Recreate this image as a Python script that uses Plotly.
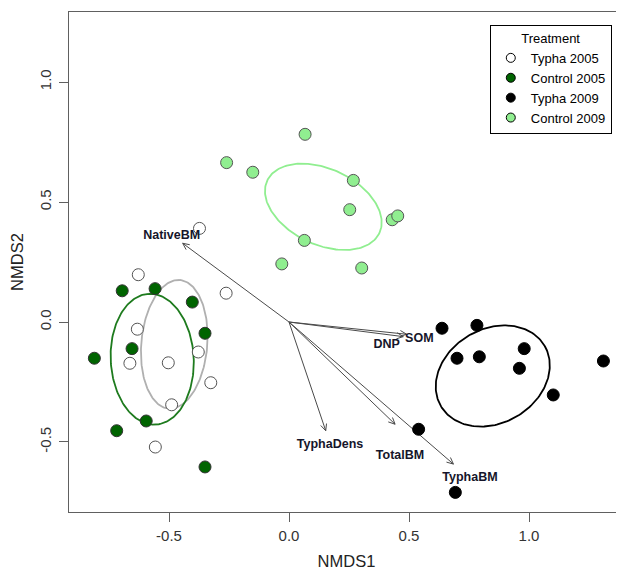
import numpy as np
import plotly.graph_objects as go

# ---- data ----
groups = ["Typha 2005", "Control 2005", "Typha 2009", "Control 2009"]

typha05_x = [-0.628, -0.262, -0.373, -0.632, -0.378, -0.663, -0.503, -0.326, -0.489, -0.557]
typha05_y = [0.197, 0.120, 0.390, -0.030, -0.125, -0.172, -0.170, -0.253, -0.345, -0.521]

control05_x = [-0.695, -0.558, -0.403, -0.350, -0.654, -0.811, -0.595, -0.718, -0.350]
control05_y = [0.130, 0.139, 0.083, -0.047, -0.111, -0.151, -0.4125, -0.453, -0.604]

typha09_x = [0.6375, 0.783, 0.700, 0.793, 0.980, 0.960, 1.310, 1.101, 0.540, 0.693]
typha09_y = [-0.026, -0.014, -0.151, -0.145, -0.111, -0.193, -0.1625, -0.304, -0.447, -0.710]

control09_x = [0.067, -0.260, -0.151, 0.268, 0.253, 0.430, 0.453, 0.064, -0.030, 0.303]
control09_y = [0.782, 0.664, 0.624, 0.590, 0.468, 0.426, 0.442, 0.340, 0.242, 0.225]

# ellipse parameters (centre, semi-axes, rotation in degrees)
ell_cx = [-0.478, -0.570, 0.849, 0.143]
ell_cy = [-0.093, -0.155, -0.225, 0.480]
ell_a = [0.269, 0.273, 0.250, 0.258]
ell_b = [0.1375, 0.173, 0.196, 0.158]
ell_ang = [85, 93, 30, -25]

# environmental vectors
vec_names = ["NativeBM", "SOM", "DNP", "TyphaDens", "TotalBM", "TyphaBM"]
vec_x = [-0.443, 0.490, 0.476, 0.153, 0.442, 0.685]
vec_y = [0.328, -0.051, -0.061, -0.453, -0.426, -0.592]
label_x = [-0.489, 0.543, 0.407, 0.171, 0.4625, 0.754]
label_y = [0.358, -0.071, -0.096, -0.510, -0.557, -0.651]

x_ticks = [-0.5, 0.0, 0.5, 1.0]
y_ticks = [-0.5, 0.0, 0.5, 1.0]

# ---- styles ----
fill_cols = ["white", "#006400", "black", "#90EE90"]
line_cols = ["#555555", "#333333", "black", "#555555"]
ell_cols = ["#b0b0b0", "#1e7b1e", "black", "#90EE90"]
FONT = "Liberation Sans, Arial"

fig = go.Figure()

# ellipses
t = np.linspace(0, 2 * np.pi, 200)
for cx, cy, a, b, ang, col in zip(ell_cx, ell_cy, ell_a, ell_b, ell_ang, ell_cols):
    th = np.deg2rad(ang)
    ex = cx + a * np.cos(t) * np.cos(th) - b * np.sin(t) * np.sin(th)
    ey = cy + a * np.cos(t) * np.sin(th) + b * np.sin(t) * np.cos(th)
    fig.add_trace(go.Scatter(x=ex, y=ey, mode="lines", line=dict(color=col, width=1.8),
                             showlegend=False, hoverinfo="skip"))

# arrows
ax_lines, ay_lines = [], []
hl = 0.03
ha = np.deg2rad(25)
for vx, vy in zip(vec_x, vec_y):
    ax_lines += [0, vx, None]
    ay_lines += [0, vy, None]
    ang = np.arctan2(vy, vx)
    for s in (1, -1):
        ax_lines += [vx, vx - hl * np.cos(ang + s * ha), None]
        ay_lines += [vy, vy - hl * np.sin(ang + s * ha), None]
fig.add_trace(go.Scatter(x=ax_lines, y=ay_lines, mode="lines",
                         line=dict(color="#4a4a4a", width=1), showlegend=False, hoverinfo="skip"))

# points
pts = [(typha05_x, typha05_y), (control05_x, control05_y), (typha09_x, typha09_y), (control09_x, control09_y)]
for (px, py), name, fc, lc in zip(pts, groups, fill_cols, line_cols):
    fig.add_trace(go.Scatter(x=px, y=py, mode="markers", name=name, showlegend=False,
                             marker=dict(size=12, color=fc, line=dict(color=lc, width=1))))

# legend-only entries (smaller symbols, as in the original key)
for name, fc, lc in zip(groups, fill_cols, line_cols):
    fig.add_trace(go.Scatter(x=[None], y=[None], mode="markers", name=name,
                             marker=dict(size=9, color=fc, line=dict(color="black", width=1))))

# vector labels
fig.add_trace(go.Scatter(x=label_x, y=label_y, mode="text", text=vec_names,
                         textfont=dict(family=FONT, size=12.5, color="#15152a", weight="bold"),
                         showlegend=False, hoverinfo="skip"))

axis_common = dict(showgrid=False, zeroline=False, showline=True, linecolor="#606060", linewidth=1,
                   ticks="outside", ticklen=9, tickcolor="#606060", automargin=False,
                   tickfont=dict(family=FONT, size=15, color="#333333"))

fig.update_layout(
    width=616, height=567,
    margin=dict(l=61, r=0, t=4, b=63, autoexpand=False),
    paper_bgcolor="white", plot_bgcolor="white",
    xaxis=dict(range=[-0.9167, 1.3958], tickvals=x_ticks, ticktext=[f"{v:.1f}" for v in x_ticks],
               mirror=True, ticklabelstandoff=1,
               title=dict(text="NMDS1", font=dict(family=FONT, size=16.5, color="#222222"),
                          standoff=12),
               **axis_common),
    yaxis=dict(range=[-0.7917, 1.2917], tickvals=y_ticks, ticktext=[f"{v:.1f}" for v in y_ticks],
               tickangle=-90, ticklabelstandoff=2,
               title=dict(text="NMDS2", font=dict(family=FONT, size=16.5, color="#222222"),
                          standoff=14),
               **axis_common),
    legend=dict(x=0.978, y=0.974, xanchor="right", yanchor="top",
                bgcolor="white", bordercolor="black", borderwidth=1,
                font=dict(family=FONT, size=13, color="black"),
                title=dict(text="Treatment", side="top center",
                           font=dict(family=FONT, size=13, color="black")),
                itemsizing="trace", itemwidth=30, tracegroupgap=0),
    showlegend=True,
)

fig.write_html("out.html")
